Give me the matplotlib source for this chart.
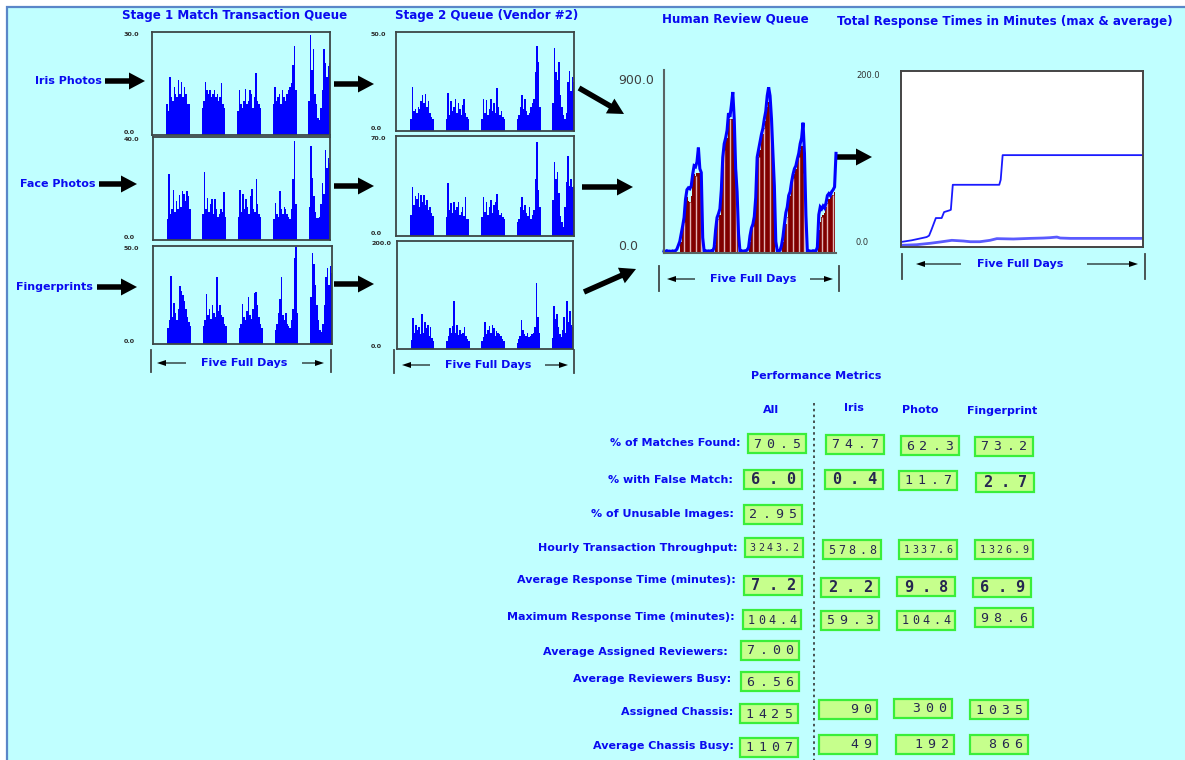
import numpy as np
import matplotlib
matplotlib.use("Agg")
import matplotlib.pyplot as plt
from matplotlib.patches import FancyArrow, Rectangle

# ---------------------------------------------------------------- data
# Queue lengths, one value per hour of each day's 16-hour active window.
stage1_iris = [
    [9, 7, 17, 11, 10, 14, 12, 11, 16, 12, 15.5, 11, 14, 12, 9, 9],
    [8, 10, 15.5, 13, 12, 13, 11, 12, 13, 11, 12, 10, 11, 15, 9, 8],
    [7, 13, 9, 8, 10, 13.5, 9, 10, 13, 12, 8, 11, 18, 10, 9, 8],
    [9, 14, 10, 11, 12, 9, 13, 11, 10, 12, 13, 14, 15, 20.5, 26, 13],
    [10, 29, 19, 25, 12, 9, 5, 4.5, 8, 13, 25, 21, 17, 20, 21],
]
stage1_face = [
    [8, 25.5, 10, 12, 19.5, 11, 15, 12, 17.5, 13, 19, 18, 15, 19, 17, 12],
    [10, 26.5, 12, 16.5, 11, 14, 16, 10, 16, 12, 9, 10, 12, 11, 18.5, 9],
    [9, 19.5, 11, 18, 12, 16, 13, 10, 17, 20, 12, 11, 23.5, 14, 10, 9],
    [8, 14.5, 10, 9, 19, 12, 10, 13, 12, 10, 9, 8, 12, 23.5, 38.5, 14],
    [13, 36.5, 24, 17, 11, 8.5, 8.5, 9, 14, 22, 18, 35, 28, 32, 30],
]
stage1_finger = [
    [8, 12, 34.5, 14, 21, 16, 12, 18, 29.5, 27, 25, 22, 18, 14, 11, 9],
    [9, 12, 25.5, 15, 18, 13, 20, 16, 14, 34, 17, 20, 15, 14, 10, 9],
    [8, 10, 20.5, 14, 12, 17, 24, 15, 13, 18, 26, 26.5, 20, 14, 10, 8],
    [7, 10, 16, 23, 34, 15, 12, 16, 10, 9, 8, 12, 18, 44, 49.5, 16],
    [24, 46.5, 41, 30, 20, 12, 7, 6, 10, 20, 34, 39, 30, 40, 36],
]
stage2_iris = [
    [6, 22, 10, 11, 9, 12, 11, 15, 18, 14, 18.5, 12, 15, 9, 7, 6],
    [6, 19, 8, 15, 10, 12, 16, 9, 14, 11, 8, 13, 16, 9, 7, 6],
    [6, 16, 9, 15.5, 8, 11, 16, 10, 14, 9, 21.5, 12, 8, 10, 7, 6],
    [6, 8, 12, 18, 11, 16, 10, 8, 9, 12, 14, 16, 30, 43, 35, 12],
    [14, 42, 30, 26, 35, 18, 12, 8, 6, 9, 25, 30.5, 20, 27.5, 25],
]
stage2_face = [
    [15, 34, 22, 28, 26, 30, 20, 29, 24, 28.5, 22, 25, 18, 20, 16, 14],
    [13, 37, 18, 23, 16, 24, 18, 20, 24, 15, 17, 20, 14, 27.5, 12, 12],
    [13, 27, 17, 24, 15, 20, 25, 16, 22, 24, 29.5, 18, 15, 16, 13, 12],
    [10, 12, 20, 27, 18, 22, 16, 14, 20, 12, 15, 18, 40, 65.5, 32, 20],
    [25, 51.5, 40, 45, 30, 14, 10, 6, 20, 38, 56, 35, 40, 34, 35],
]
stage2_finger = [
    [16, 57, 30, 45, 35, 40, 28, 65, 30, 50, 38, 44, 25, 40, 20, 15],
    [15, 24, 38, 30, 42, 88, 30, 44, 26, 35, 28, 30, 40, 25, 18, 15],
    [15, 22, 50, 28, 35, 42, 30, 45, 38, 25, 34, 30, 28, 24, 18, 14],
    [12, 18, 25, 54, 35, 28, 24, 30, 22, 25, 27, 30, 40, 122, 60, 30],
    [20, 80, 55, 65, 40, 28, 22, 35, 60, 30, 88, 50, 70, 45, 40],
]
stage1_max = [30.0, 40.0, 50.0]
stage2_max = [50.0, 70.0, 200.0]

# Human review queue, hours 0..120 (waiting) and hours 0..119 (in review)
review_waiting = [
    10, 8, 12, 9, 10, 8, 11, 9, 12,
    20, 40, 60, 100, 140, 185, 280, 330, 340, 335, 350, 410, 455, 450, 475,
    550, 440, 420, 80,
    10, 12, 9, 11, 10, 12, 10,
    30, 120, 185, 205, 230, 330, 500, 570, 600, 640, 730, 710, 770, 840,
    700, 440, 320, 100,
    10, 12, 9, 11, 12, 15,
    30, 90, 130, 150, 190, 290, 500, 540, 580, 620, 650, 700, 740, 820,
    865, 820, 700, 520, 350, 60,
    12, 10, 14,
    40, 85, 150, 210, 240, 300, 320, 370, 410, 440, 455, 490, 520, 570,
    600, 680, 520, 200,
    10, 12, 10, 9, 12, 10, 11,
    30, 200, 240, 230, 245, 235, 260, 300, 310, 300, 320, 330, 345, 520,
]
review_active = [
    0, 0, 0, 0, 0, 0, 0, 0, 0, 0, 0, 0,
    60, 110, 160, 250, 290, 270, 265, 300, 370, 410, 400, 420, 420, 420, 400,
    0, 0, 0, 0, 0, 0, 0, 0, 0,
    40, 160, 180, 200, 300, 470, 540, 580, 600, 690, 700, 700, 700, 600,
    430, 300,
    0, 0, 0, 0, 0, 0, 0, 0,
    60, 120, 140, 170, 270, 420, 500, 540, 590, 620, 650, 690, 760, 790,
    770, 640, 480, 300,
    0, 0, 0, 0, 0,
    60, 120, 150, 190, 270, 300, 340, 390, 410, 440, 470, 500, 540, 560,
    560, 420,
    0, 0, 0, 0, 0, 0, 0, 0, 0,
    120, 160, 190, 200, 210, 240, 260, 280, 290, 300, 305, 320,
]
review_max = 900.0

# Total response time in minutes (x in days)
max_resp_day = [0, 0.22, 0.38, 0.53, 0.58, 0.63, 0.72, 0.84, 0.89, 1.0,
                1.03, 1.07, 2.03, 2.06, 2.1, 5.0]
max_resp_min = [5.7, 7.6, 9.5, 11.3, 12.9, 19.7, 32.9, 32.9, 39.7, 41.6,
                42.3, 70.7, 70.7, 76.4, 104.4, 104.4]
avg_resp_day = [0, 0.32, 0.6, 0.81, 1.05, 1.29, 1.43, 1.63, 1.84, 1.98,
                2.32, 2.67, 2.94, 3.08, 3.22, 3.29, 3.5, 5.0]
avg_resp_min = [1.9, 2.6, 4.2, 5.7, 7.6, 6.8, 6.0, 6.0, 7.6, 9.5,
                9.1, 9.8, 10.2, 10.6, 11.3, 10.2, 9.8, 9.8]
resp_max = 200.0

# Performance metrics
metric_names = [
    "% of Matches Found:", "% with False Match:", "% of Unusable Images:",
    "Hourly Transaction Throughput:", "Average Response Time (minutes):",
    "Maximum Response Time (minutes):", "Average Assigned Reviewers:",
    "Average Reviewers Busy:", "Assigned Chassis:", "Average Chassis Busy:",
]
metric_decimals = [1, 1, 2, 1, 1, 1, 2, 2, 0, 0]
metric_all = [70.5, 6.0, 2.95, 3243.2, 7.2, 104.4, 7.00, 6.56, 1425, 1107]
metric_iris = [74.7, 0.4, None, 578.8, 2.2, 59.3, None, None, 90, 49]
metric_photo = [62.3, 11.7, None, 1337.6, 9.8, 104.4, None, None, 300, 192]
metric_finger = [73.2, 2.7, None, 1326.9, 6.9, 98.6, None, None, 1035, 866]
column_names = ["All", "Iris", "Photo", "Fingerprint"]
row_names = ["Iris Photos", "Face Photos", "Fingerprints"]

# ---------------------------------------------------------------- layout
W, H = 1185, 760
BG = "#C0FFFF"
TXT = "#0A0AF0"
BAR = "#0000FF"
SPINE = "#3c4646"
DAY_HOURS = 24
ACTIVE_START = 9.5
SPAN_HOURS = 120
TITLE_SIZE = 8.6

fig = plt.figure(figsize=(W / 100, H / 100), dpi=100)
fig.patch.set_facecolor("white")

bg = fig.add_axes([0, 0, 1, 1])
bg.set_xlim(0, W)
bg.set_ylim(H, 0)
bg.axis("off")
bg.add_patch(Rectangle((7, 7), W, H, facecolor=BG, edgecolor="#5a86c8", lw=1.6))


def rect(x0, y0, x1, y1):
    return [x0 / W, 1 - y1 / H, (x1 - x0) / W, (y1 - y0) / H]


def label(x, y, s, ha="center", size=8, color=TXT, weight="bold", **kw):
    bg.text(x, y, s, ha=ha, va="center", fontsize=size, fontweight=weight,
            color=color, **kw)


def thick_arrow(x0, y0, x1, y1):
    bg.add_patch(FancyArrow(x0, y0, x1 - x0, y1 - y0, width=5.5, head_width=17,
                            head_length=16, length_includes_head=True,
                            color="black", lw=0))


def thin_arrow(x0, y0, x1, y1):
    bg.add_patch(FancyArrow(x0, y0, x1 - x0, y1 - y0, width=1.1, head_width=6,
                            head_length=9, length_includes_head=True,
                            color="black", lw=0))


def span_marker(xl, xr, y0, y1, ytxt, xtxt, al, ar):
    for x in (xl, xr):
        bg.plot([x, x], [y0, y1], color="#404848", lw=1.3)
    thin_arrow(al[0], ytxt, al[1], ytxt)
    thin_arrow(ar[0], ytxt, ar[1], ytxt)
    label(xtxt, ytxt, "Five Full Days")


def style_yticks(ax, ticks, labels, pad_px, size, color, weight, top_va="top"):
    ax.set_yticks(ticks)
    ax.set_yticklabels(labels)
    ax.tick_params(axis="y", length=0, pad=pad_px * 0.72, labelsize=size,
                   labelcolor=color)
    tl = ax.get_yticklabels()
    for t in tl:
        t.set_ha("left")
        t.set_fontweight(weight)
    tl[0].set_va("bottom")
    tl[-1].set_va(top_va)


def queue_chart(box, days, ymax, pad_px):
    ax = fig.add_axes(rect(*box))
    ax.set_facecolor("none")
    for d, vals in enumerate(days):
        x = ACTIVE_START + d * DAY_HOURS + np.arange(len(vals))
        ax.bar(x, vals, width=1.0, align="edge", color=BAR, linewidth=0)
    ax.set_xlim(0, SPAN_HOURS)
    ax.set_ylim(0, ymax)
    ax.set_xticks([])
    style_yticks(ax, [0, ymax], [f"{0:.1f}", f"{ymax:.1f}"], pad_px, 4.6,
                 "#2a2a2a", "bold")
    for sp in ax.spines.values():
        sp.set_color(SPINE)
        sp.set_linewidth(1.3)
    return ax


# ---- stage 1 queues
label(235, 15, "Stage 1 Match Transaction Queue", size=TITLE_SIZE)
s1_boxes = [(152, 32, 330, 135), (153, 137, 330, 240), (153, 246, 332, 344)]
for box, days, ymax in zip(s1_boxes, [stage1_iris, stage1_face, stage1_finger],
                           stage1_max):
    queue_chart(box, days, ymax, box[0] - 124)
span_marker(151, 331, 350, 372, 363, 244, (186, 157), (302, 324))

# ---- stage 2 queues
label(487, 15, "Stage 2 Queue (Vendor #2)", size=TITLE_SIZE)
s2_boxes = [(396, 32, 574, 131), (396, 136, 574, 236), (397, 241, 573, 349)]
for box, days, ymax in zip(s2_boxes, [stage2_iris, stage2_face, stage2_finger],
                           stage2_max):
    queue_chart(box, days, ymax, box[0] - 371)
span_marker(394, 574, 350, 373, 365, 488, (430, 402), (545, 568))

# ---- row labels and flow arrows
row_y = [81, 184, 287]
row_right = [102, 95, 93]
row_arrow = [(105, 145), (99, 137), (97, 137)]
for name, y, xr, (a0, a1) in zip(row_names, row_y, row_right, row_arrow):
    label(xr, y, name, ha="right")
    thick_arrow(a0, y, a1, y)
for y in (84, 186, 284):
    thick_arrow(334, y, 374, y)
thick_arrow(579, 88, 624, 114)
thick_arrow(582, 187, 633, 187)
thick_arrow(584, 292, 636, 269)
thick_arrow(836, 157, 872, 157)

# ---- human review queue
label(735, 19, "Human Review Queue", size=TITLE_SIZE)
axh = fig.add_axes(rect(664, 70, 836, 253))
axh.set_facecolor("none")
hrs = np.arange(len(review_active))
axh.bar(hrs, review_active, width=1.0, align="center", color="#800000",
        linewidth=0)
stripe = hrs[(hrs % 4 == 2) & (np.array(review_active) > 0)]
axh.vlines(stripe, 0, np.array(review_active)[stripe], color="#e2b4b4", lw=1.0)
axh.plot(np.arange(len(review_waiting)), review_waiting, color=BAR, lw=2.2,
         clip_on=False, solid_joinstyle="miter")
axh.set_xlim(0, SPAN_HOURS)
axh.set_ylim(0, 955)
axh.set_xticks([])
style_yticks(axh, [0, review_max], ["0.0", "900.0"], 664 - 618, 9,
             "#404040", "normal", top_va="center")
axh.spines["top"].set_visible(False)
axh.spines["right"].set_visible(False)
for s in ("left", "bottom"):
    axh.spines[s].set_color("#5a6464")
    axh.spines[s].set_linewidth(1.5)
span_marker(659, 839, 266, 291, 279, 753, (695, 667), (810, 833))

# ---- total response times
label(1005, 21, "Total Response Times in Minutes (max & average)", size=TITLE_SIZE)
axr = fig.add_axes(rect(901, 71, 1143, 247))
axr.set_facecolor("white")
axr.plot(max_resp_day, max_resp_min, color="#1a1aff", lw=1.3)
axr.plot(avg_resp_day, avg_resp_min, color="#5a5aff", lw=2.0)
axr.set_xlim(0, 5)
axr.set_ylim(0, resp_max)
axr.set_xticks([])
style_yticks(axr, [0, resp_max], ["0.0", "200.0"], 901 - 856, 6,
             "#333333", "normal")
for sp in axr.spines.values():
    sp.set_color("#444444")
    sp.set_linewidth(1.4)
span_marker(902, 1145, 254, 279, 264, 1020, (961, 916), (1087, 1138))

# ---- performance metrics
label(816, 376, "Performance Metrics")
for name, x, y in zip(column_names, [771, 854, 920, 1002], [410, 408, 410, 411]):
    label(x, y, name)
bg.plot([814, 814], [403, 760], color="#333333", lw=1.2, ls=(0, (1.5, 2.0)))

name_right = [740, 733, 734, 738, 736, 735, 728, 731, 733, 734]
name_y = [443, 480, 514, 548, 580, 617, 652, 679, 712, 746]
all_left = [748, 744, 744, 745, 744, 743, 741, 741, 740, 740]
all_cy = [443.5, 479.5, 514.5, 547.5, 585, 619.5, 650, 681.5, 713.5, 747]
side_left = {0: (826, 901, 975), 1: (825, 899, 976), 3: (823, 899, 975),
             4: (821, 897, 973), 5: (821, 897, 975), 8: (819, 894, 970),
             9: (819, 896, 970)}
side_cy = {0: (444, 445.5, 446.5), 1: (479.5, 480, 482), 3: (549.5, 549.5, 549.5),
           4: (587.5, 586.5, 587.5), 5: (620, 620, 617.5), 8: (709, 708, 709.5),
           9: (744.5, 744.5, 744.5)}


def value_box(x0, cy, text):
    w, h = 58, 19
    bg.add_patch(Rectangle((x0, cy - h / 2), w, h, facecolor="#C6FF8C",
                           edgecolor="#3AEE3A", lw=1.6))
    if "." in text:
        cells = text
    else:
        cells = text.rjust(max(4, len(text)))
    n = len(cells)
    big = "." in text and n == 3
    size = {3: 11, 4: 9.5, 5: 8.5}.get(n, 7.2)
    step = (w - 6) / n
    for i, c in enumerate(cells):
        if c != " ":
            bg.text(x0 + 3 + step * (i + 0.5), cy + 0.5, c, ha="center",
                    va="center", family="DejaVu Sans Mono", fontsize=size,
                    color="#262650", fontweight="bold" if big else "normal")


for i, name in enumerate(metric_names):
    label(name_right[i], name_y[i], name, ha="right")
    fmt = f"{{:.{metric_decimals[i]}f}}"
    value_box(all_left[i], all_cy[i], fmt.format(metric_all[i]))
    if i in side_left:
        for col, vals in enumerate([metric_iris, metric_photo, metric_finger]):
            value_box(side_left[i][col], side_cy[i][col], fmt.format(vals[i]))

fig.savefig("out.png", dpi=100, facecolor=fig.get_facecolor())
